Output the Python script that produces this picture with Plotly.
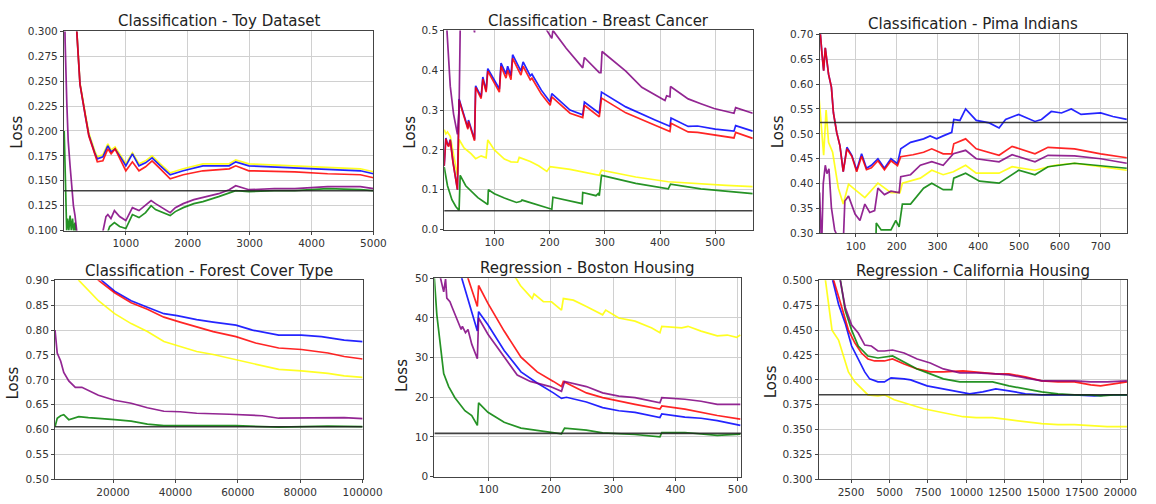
import plotly.graph_objects as go

# ---------------- Classification - Toy Dataset ----------------
toy_top_x = [150, 207, 260, 350, 403, 498, 540, 630, 710, 763, 827, 922, 1001, 1107, 1213, 1319, 1425, 1558, 1717, 1928, 2246, 2670, 2776, 2988, 3730, 4260, 4789, 5000]
toy_red_y = [0.36, 0.300, 0.247, 0.214, 0.195, 0.177, 0.169, 0.170, 0.182, 0.177, 0.182, 0.170, 0.160, 0.169, 0.160, 0.164, 0.170, 0.162, 0.152, 0.156, 0.160, 0.162, 0.165, 0.160, 0.159, 0.157, 0.156, 0.153]
toy_blue_y = [0.36, 0.300, 0.247, 0.214, 0.196, 0.178, 0.172, 0.174, 0.185, 0.179, 0.182, 0.173, 0.165, 0.177, 0.165, 0.168, 0.173, 0.165, 0.156, 0.160, 0.165, 0.165, 0.169, 0.165, 0.163, 0.161, 0.160, 0.157]
toy_yellow_y = [0.36, 0.300, 0.248, 0.216, 0.198, 0.180, 0.174, 0.176, 0.187, 0.181, 0.184, 0.175, 0.167, 0.178, 0.167, 0.170, 0.175, 0.167, 0.158, 0.162, 0.167, 0.167, 0.171, 0.167, 0.165, 0.163, 0.162, 0.159]
toy_purple_x = [8, 20, 48, 70, 100, 120, 154, 180, 207, 260, 400, 600, 646, 680, 710, 760, 816, 900, 1001, 1107, 1213, 1320, 1409, 1480, 1558, 1717, 1800, 1928, 2100, 2246, 2500, 2670, 2776, 2988, 3400, 3730, 4260, 4789, 5000]
toy_purple_y = [0.34, 0.29, 0.227, 0.19, 0.165, 0.15, 0.125, 0.115, 0.100, 0.085, 0.08, 0.09, 0.103, 0.114, 0.116, 0.112, 0.120, 0.114, 0.110, 0.123, 0.120, 0.125, 0.130, 0.127, 0.124, 0.118, 0.123, 0.127, 0.131, 0.133, 0.137, 0.141, 0.145, 0.141, 0.142, 0.142, 0.144, 0.144, 0.142]
toy_green_x = [5, 15, 30, 45, 60, 80, 100, 120, 140, 160, 180, 210, 260, 400, 600, 700, 740, 816, 900, 1001, 1107, 1213, 1320, 1409, 1480, 1558, 1717, 1800, 1928, 2100, 2246, 2500, 2670, 2776, 2988, 3400, 3730, 4260, 4789, 5000]
toy_green_y = [0.20, 0.165, 0.12, 0.10, 0.112, 0.10, 0.115, 0.10, 0.112, 0.098, 0.108, 0.09, 0.08, 0.075, 0.085, 0.097, 0.104, 0.108, 0.104, 0.102, 0.116, 0.113, 0.118, 0.125, 0.121, 0.119, 0.115, 0.119, 0.123, 0.127, 0.129, 0.134, 0.138, 0.140, 0.139, 0.140, 0.140, 0.142, 0.141, 0.140]
toy_base = 0.140

# ---------------- Classification - Breast Cancer ----------------
bc_x = [9, 10, 12, 15, 17, 20, 25, 33, 36, 42, 47, 52, 53, 60, 64, 66, 76, 79, 85, 88, 100, 109, 112, 121, 124, 130, 133, 148, 152, 165, 168, 185, 201, 204, 237, 260, 263, 290, 294, 338, 391, 418, 420, 451, 468, 500, 534, 537, 568]
bc_blue_y = [0.16, 0.18, 0.230, 0.215, 0.21, 0.226, 0.17, 0.10, 0.328, 0.30, 0.275, 0.255, 0.275, 0.245, 0.226, 0.361, 0.333, 0.383, 0.349, 0.404, 0.375, 0.353, 0.418, 0.390, 0.410, 0.386, 0.439, 0.398, 0.421, 0.386, 0.39, 0.35, 0.320, 0.341, 0.300, 0.288, 0.320, 0.292, 0.345, 0.308, 0.275, 0.259, 0.28, 0.259, 0.26, 0.252, 0.247, 0.261, 0.247]
bc_red_y = [0.16, 0.18, 0.228, 0.213, 0.208, 0.224, 0.168, 0.10, 0.325, 0.297, 0.272, 0.252, 0.272, 0.242, 0.223, 0.357, 0.329, 0.378, 0.345, 0.398, 0.368, 0.345, 0.410, 0.380, 0.400, 0.376, 0.430, 0.388, 0.410, 0.376, 0.38, 0.34, 0.312, 0.333, 0.292, 0.281, 0.312, 0.283, 0.330, 0.293, 0.262, 0.246, 0.267, 0.245, 0.244, 0.237, 0.230, 0.244, 0.229]
bc_yellow_x = [9, 12, 15, 20, 27, 33, 36, 45, 58, 66, 76, 85, 88, 100, 118, 130, 142, 145, 165, 180, 195, 201, 237, 260, 290, 294, 356, 415, 474, 520, 568]
bc_yellow_y = [0.251, 0.24, 0.245, 0.234, 0.18, 0.136, 0.226, 0.205, 0.19, 0.178, 0.185, 0.18, 0.225, 0.2, 0.177, 0.17, 0.169, 0.181, 0.171, 0.16, 0.146, 0.158, 0.151, 0.144, 0.136, 0.149, 0.132, 0.12, 0.114, 0.111, 0.108]
bc_purple_x = [9, 14, 20, 26, 33, 36, 40, 62, 64, 66, 100, 150, 195, 204, 206, 230, 260, 263, 290, 293, 295, 338, 367, 391, 409, 412, 418, 419, 451, 474, 498, 534, 537, 568]
bc_purple_y = [0.9, 0.5, 0.36, 0.29, 0.239, 0.3, 0.7, 0.52, 0.495, 0.6, 0.7, 0.6, 0.5, 0.48, 0.5, 0.455, 0.406, 0.432, 0.394, 0.394, 0.447, 0.398, 0.357, 0.337, 0.324, 0.336, 0.333, 0.359, 0.328, 0.316, 0.304, 0.292, 0.306, 0.292]
bc_green_x = [9, 15, 23, 30, 36, 38, 48, 58, 70, 88, 89, 100, 118, 140, 148, 150, 175, 204, 206, 230, 259, 260, 284, 288, 290, 294, 356, 415, 419, 474, 520, 568]
bc_green_y = [0.157, 0.11, 0.075, 0.058, 0.048, 0.136, 0.11, 0.096, 0.08, 0.063, 0.1, 0.09, 0.079, 0.068, 0.071, 0.074, 0.064, 0.051, 0.081, 0.073, 0.065, 0.093, 0.085, 0.09, 0.085, 0.136, 0.116, 0.102, 0.114, 0.102, 0.096, 0.090]
bc_base = 0.047

# ---------------- Classification - Pima Indians ----------------
pima_blue_x = [10, 13, 17, 21, 25, 29, 33, 40, 45, 53, 61, 69, 78, 90, 102, 114, 126, 138, 154, 170, 186, 202, 210, 234, 266, 282, 298, 314, 335, 340, 355, 369, 395, 427, 451, 467, 499, 539, 555, 579, 604, 628, 652, 700, 730, 764]
pima_blue_y = [0.72, 0.70, 0.66, 0.627, 0.673, 0.646, 0.620, 0.594, 0.542, 0.503, 0.476, 0.424, 0.473, 0.457, 0.427, 0.460, 0.431, 0.437, 0.450, 0.431, 0.450, 0.440, 0.470, 0.483, 0.490, 0.496, 0.490, 0.496, 0.503, 0.529, 0.527, 0.550, 0.527, 0.522, 0.512, 0.529, 0.539, 0.525, 0.529, 0.545, 0.542, 0.550, 0.539, 0.542, 0.535, 0.529]
pima_red_x = [10, 13, 17, 21, 25, 29, 33, 40, 45, 53, 61, 69, 78, 90, 102, 114, 126, 138, 154, 170, 186, 202, 210, 240, 266, 286, 314, 335, 340, 369, 395, 451, 483, 539, 571, 636, 700, 764]
pima_red_y = [0.72, 0.70, 0.66, 0.627, 0.673, 0.646, 0.620, 0.594, 0.542, 0.503, 0.476, 0.424, 0.470, 0.455, 0.424, 0.455, 0.428, 0.432, 0.446, 0.428, 0.446, 0.436, 0.454, 0.458, 0.463, 0.470, 0.460, 0.460, 0.480, 0.490, 0.470, 0.457, 0.475, 0.460, 0.473, 0.470, 0.460, 0.452]
pima_purple_x = [10, 11, 16, 20, 25, 29, 34, 40, 48, 57, 69, 73, 82, 98, 110, 122, 134, 146, 154, 170, 186, 206, 210, 234, 258, 286, 314, 339, 369, 395, 451, 483, 539, 571, 636, 700, 764]
pima_purple_y = [0.38, 0.382, 0.27, 0.40, 0.437, 0.42, 0.43, 0.352, 0.307, 0.29, 0.28, 0.365, 0.375, 0.339, 0.326, 0.359, 0.342, 0.346, 0.391, 0.378, 0.385, 0.382, 0.414, 0.418, 0.437, 0.444, 0.437, 0.460, 0.467, 0.450, 0.444, 0.458, 0.444, 0.457, 0.456, 0.450, 0.441]
pima_yellow_x = [10, 11, 16, 21, 27, 33, 43, 57, 69, 82, 98, 122, 154, 186, 208, 214, 258, 286, 314, 339, 369, 395, 451, 483, 539, 588, 636, 700, 764]
pima_yellow_y = [0.57, 0.561, 0.50, 0.457, 0.548, 0.483, 0.463, 0.391, 0.359, 0.399, 0.388, 0.372, 0.401, 0.382, 0.382, 0.401, 0.411, 0.427, 0.418, 0.424, 0.437, 0.421, 0.421, 0.434, 0.427, 0.437, 0.441, 0.434, 0.427]
pima_green_x = [10, 40, 100, 149, 150, 162, 186, 198, 206, 214, 234, 266, 286, 314, 335, 340, 369, 403, 451, 499, 539, 571, 636, 700, 764]
pima_green_y = [0.25, 0.22, 0.24, 0.28, 0.321, 0.307, 0.307, 0.326, 0.313, 0.359, 0.359, 0.391, 0.401, 0.388, 0.388, 0.411, 0.421, 0.405, 0.401, 0.427, 0.418, 0.434, 0.441, 0.436, 0.431]
pima_base = 0.523

# ---------------- Classification - Forest Cover Type ----------------
fc_blue_x = [10000, 16300, 20500, 25800, 31000, 36300, 40500, 46800, 52100, 59400, 64700, 69900, 73100, 80400, 86800, 94100, 100000]
fc_blue_y = [0.98, 0.900, 0.878, 0.859, 0.846, 0.833, 0.829, 0.821, 0.816, 0.810, 0.800, 0.793, 0.790, 0.790, 0.787, 0.780, 0.777]
fc_red_x = [10000, 15300, 20500, 25800, 31000, 36300, 41500, 46800, 52100, 59400, 65700, 73100, 80400, 88900, 94100, 100000]
fc_red_y = [0.97, 0.900, 0.875, 0.855, 0.842, 0.826, 0.816, 0.806, 0.797, 0.787, 0.774, 0.764, 0.761, 0.754, 0.747, 0.742]
fc_yellow_x = [5000, 9000, 15300, 20500, 25800, 31000, 36300, 41500, 46800, 52100, 59400, 65700, 73100, 80400, 88900, 94100, 100000]
fc_yellow_y = [0.96, 0.900, 0.859, 0.833, 0.813, 0.797, 0.777, 0.767, 0.757, 0.751, 0.741, 0.731, 0.721, 0.718, 0.713, 0.708, 0.705]
fc_purple_x = [1400, 2100, 3200, 4200, 5800, 7900, 10000, 12100, 15300, 20500, 25800, 31000, 36300, 41500, 46800, 57300, 67800, 73100, 83600, 94100, 100000]
fc_purple_y = [0.800, 0.754, 0.738, 0.715, 0.698, 0.685, 0.685, 0.679, 0.669, 0.659, 0.653, 0.644, 0.637, 0.636, 0.633, 0.631, 0.628, 0.623, 0.624, 0.624, 0.622]
fc_green_x = [1400, 2100, 3200, 4200, 5800, 9000, 12100, 15300, 20500, 25800, 31000, 36300, 46800, 59400, 73100, 88900, 100000]
fc_green_y = [0.606, 0.623, 0.628, 0.630, 0.620, 0.626, 0.624, 0.622, 0.620, 0.617, 0.611, 0.608, 0.608, 0.608, 0.605, 0.607, 0.606]
fc_base = 0.606

# ---------------- Regression - Boston Housing ----------------
bh_yellow_x = [130, 144, 151, 170, 173, 188, 201, 217, 220, 236, 257, 283, 288, 309, 335, 362, 375, 378, 410, 420, 441, 467, 483, 498, 504]
bh_yellow_y = [52, 50, 48.2, 44.9, 46.1, 44.1, 44.1, 42.0, 44.9, 44.5, 42.9, 40.8, 42.0, 40.0, 39.2, 37.5, 36.3, 37.9, 37.5, 37.9, 36.7, 35.5, 35.7, 35.1, 35.7]
bh_red_x = [60, 67, 82, 84, 99, 125, 152, 178, 204, 217, 220, 257, 283, 309, 335, 375, 378, 415, 441, 467, 504]
bh_red_y = [56, 50, 42.9, 48.2, 43.7, 36.7, 30.1, 26.4, 24.0, 22.7, 24.0, 21.1, 19.9, 19.0, 18.2, 17.0, 17.8, 17.0, 16.2, 15.4, 14.5]
bh_blue_x = [50, 57, 82, 84, 99, 125, 152, 178, 204, 217, 225, 257, 283, 309, 335, 375, 378, 415, 441, 467, 504]
bh_blue_y = [55, 50, 36.7, 41.6, 38.3, 31.8, 26.4, 23.6, 21.1, 19.7, 20.0, 18.8, 17.4, 16.6, 16.2, 14.9, 15.8, 15.0, 14.7, 14.1, 12.9]
bh_purple_x = [20, 23, 28, 31, 33, 38, 41, 49, 56, 58, 63, 67, 73, 82, 84, 99, 125, 146, 167, 178, 199, 217, 222, 257, 283, 309, 335, 375, 378, 415, 441, 467, 504]
bh_purple_y = [55, 50, 46.6, 49.8, 45, 44.1, 42.9, 40.0, 37.1, 37.9, 36.3, 37.1, 33.4, 29.7, 40.0, 35.9, 30.1, 25.6, 24.0, 23.6, 22.7, 21.5, 24.0, 22.7, 21.1, 20.3, 19.9, 18.6, 19.9, 19.5, 19.0, 18.2, 18.2]
bh_green_x = [10, 13, 17, 23, 28, 36, 46, 62, 73, 82, 84, 99, 125, 152, 178, 204, 217, 222, 257, 283, 335, 375, 378, 415, 441, 467, 504]
bh_green_y = [55, 50, 40.8, 32.6, 26.0, 22.7, 19.9, 16.6, 15.4, 12.9, 18.6, 16.2, 13.7, 12.2, 11.7, 11.2, 10.8, 12.2, 11.7, 11.0, 10.6, 10.0, 11.1, 11.1, 10.8, 10.4, 10.7]
bh_base = 10.9

# ---------------- Regression - California Housing ----------------
ca_yellow_x = [500, 840, 1265, 1690, 2010, 2330, 2755, 3180, 3600, 4250, 4670, 5310, 6375, 7225, 8500, 9780, 10630, 11700, 12760, 13830, 14890, 15950, 17020, 18080, 19150, 20430]
ca_yellow_y = [0.56, 0.500, 0.450, 0.440, 0.424, 0.408, 0.398, 0.391, 0.385, 0.384, 0.385, 0.380, 0.375, 0.371, 0.367, 0.363, 0.362, 0.362, 0.360, 0.358, 0.356, 0.355, 0.355, 0.354, 0.353, 0.353]
ca_blue_x = [800, 1310, 1690, 2120, 2540, 2970, 3390, 3710, 4250, 4670, 5100, 5950, 6375, 7440, 8500, 9360, 10210, 11060, 11910, 12760, 13830, 14890, 17020, 18300, 19150, 20430]
ca_blue_y = [0.56, 0.500, 0.476, 0.457, 0.434, 0.421, 0.408, 0.401, 0.398, 0.398, 0.402, 0.401, 0.400, 0.394, 0.391, 0.388, 0.386, 0.388, 0.391, 0.389, 0.386, 0.385, 0.385, 0.384, 0.385, 0.385]
ca_red_x = [800, 1370, 1900, 2330, 2755, 3180, 3600, 4030, 4670, 5200, 5950, 6800, 7650, 8500, 9780, 10630, 11910, 12760, 13830, 14890, 15950, 17020, 18080, 18720, 19150, 20430]
ca_red_y = [0.56, 0.500, 0.473, 0.450, 0.437, 0.427, 0.421, 0.419, 0.419, 0.421, 0.416, 0.411, 0.408, 0.408, 0.409, 0.408, 0.406, 0.406, 0.403, 0.399, 0.398, 0.398, 0.395, 0.394, 0.395, 0.398]
ca_green_x = [1200, 1800, 2120, 2540, 2970, 3600, 4250, 5200, 5950, 6800, 7650, 8500, 9570, 10630, 11700, 12760, 13830, 14890, 15950, 17020, 18080, 18720, 19570, 20430]
ca_green_y = [0.56, 0.500, 0.470, 0.450, 0.434, 0.424, 0.422, 0.424, 0.418, 0.411, 0.406, 0.401, 0.398, 0.398, 0.398, 0.394, 0.391, 0.388, 0.386, 0.385, 0.385, 0.384, 0.385, 0.385]
ca_purple_x = [1200, 1800, 2120, 2540, 2970, 3390, 3820, 4250, 4670, 5200, 5950, 6800, 7650, 8500, 9570, 10630, 11910, 12760, 13830, 14890, 15950, 17020, 18080, 19150, 20430]
ca_purple_y = [0.56, 0.500, 0.473, 0.455, 0.447, 0.435, 0.434, 0.429, 0.429, 0.430, 0.427, 0.421, 0.417, 0.411, 0.407, 0.407, 0.406, 0.405, 0.402, 0.399, 0.399, 0.399, 0.398, 0.398, 0.399]
ca_base = 0.385

# ---------------- titles / ticks ----------------
titles = ["Classification - Toy Dataset", "Classification - Breast Cancer", "Classification - Pima Indians",
          "Classification - Forest Cover Type", "Regression - Boston Housing", "Regression - California Housing"]
x_ranges = [[0, 5000], [9, 568], [11, 765], [1400, 100000], [13, 505], [392, 20447]]
y_ranges = [[0.1, 0.3], [0.0, 0.5], [0.3, 0.7], [0.5, 0.9], [0, 50], [0.3, 0.5]]
x_ticks = [[1000, 2000, 3000, 4000, 5000], [100, 200, 300, 400, 500], [100, 200, 300, 400, 500, 600, 700],
           [20000, 40000, 60000, 80000, 100000], [100, 200, 300, 400, 500],
           [2500, 5000, 7500, 10000, 12500, 15000, 17500, 20000]]
y_ticks = [[0.100, 0.125, 0.150, 0.175, 0.200, 0.225, 0.250, 0.275, 0.300],
           [0.0, 0.1, 0.2, 0.3, 0.4, 0.5],
           [0.30, 0.35, 0.40, 0.45, 0.50, 0.55, 0.60, 0.65, 0.70],
           [0.50, 0.55, 0.60, 0.65, 0.70, 0.75, 0.80, 0.85, 0.90],
           [0, 10, 20, 30, 40, 50],
           [0.300, 0.325, 0.350, 0.375, 0.400, 0.425, 0.450, 0.475, 0.500]]
y_formats = [".3f", ".1f", ".2f", ".2f", "d", ".3f"]

W, H = 1156, 504
# plot boxes in pixels: left, right, top, bottom
boxes = [(65, 380, 26, 230), (452, 766, 25, 229), (834, 1147, 29, 233),
         (56, 369, 281, 485), (442, 754, 279, 482), (833, 1147, 281, 485)]
title_y = [15, 15, 18, 271, 268, 271]
loss_pos = [(17, 129), (417, 129), (792, 129), (13, 386), (409, 378), (784, 385)]

COL = {"yellow": "#ffff00", "blue": "#0000ff", "red": "#ff0000", "green": "#008000", "purple": "#800080"}

series = [
    [("yellow", toy_top_x, toy_yellow_y), ("blue", toy_top_x, toy_blue_y), ("red", toy_top_x, toy_red_y),
     ("green", toy_green_x, toy_green_y), ("purple", toy_purple_x, toy_purple_y)],
    [("yellow", bc_yellow_x, bc_yellow_y), ("blue", bc_x, bc_blue_y), ("red", bc_x, bc_red_y),
     ("green", bc_green_x, bc_green_y), ("purple", bc_purple_x, bc_purple_y)],
    [("yellow", pima_yellow_x, pima_yellow_y), ("blue", pima_blue_x, pima_blue_y), ("red", pima_red_x, pima_red_y),
     ("green", pima_green_x, pima_green_y), ("purple", pima_purple_x, pima_purple_y)],
    [("yellow", fc_yellow_x, fc_yellow_y), ("blue", fc_blue_x, fc_blue_y), ("red", fc_red_x, fc_red_y),
     ("green", fc_green_x, fc_green_y), ("purple", fc_purple_x, fc_purple_y)],
    [("yellow", bh_yellow_x, bh_yellow_y), ("blue", bh_blue_x, bh_blue_y), ("red", bh_red_x, bh_red_y),
     ("green", bh_green_x, bh_green_y), ("purple", bh_purple_x, bh_purple_y)],
    [("yellow", ca_yellow_x, ca_yellow_y), ("blue", ca_blue_x, ca_blue_y), ("red", ca_red_x, ca_red_y),
     ("green", ca_green_x, ca_green_y), ("purple", ca_purple_x, ca_purple_y)],
]
baselines = [toy_base, bc_base, pima_base, fc_base, bh_base, ca_base]

fig = go.Figure()
annotations = []
layout = {}
FONT = "DejaVu Sans"
for i in range(6):
    n = "" if i == 0 else str(i + 1)
    xa, ya = "x" + n, "y" + n
    for cname, xs, ys in series[i]:
        fig.add_trace(go.Scatter(x=xs, y=ys, mode="lines", xaxis=xa, yaxis=ya, showlegend=False,
                                 line=dict(color=COL[cname], width=1.7), opacity=0.85))
    fig.add_trace(go.Scatter(x=x_ranges[i], y=[baselines[i], baselines[i]], mode="lines", xaxis=xa, yaxis=ya,
                             showlegend=False, line=dict(color="#222222", width=1.6), opacity=0.85))
    l, r, t, b = boxes[i]
    common = dict(showgrid=True, gridcolor="#d0d0d0", gridwidth=1, zeroline=False,
                  showline=True, mirror=True, linecolor="#444", linewidth=1,
                  ticks="outside", ticklen=3, tickcolor="#444",
                  tickfont=dict(family=FONT, size=10.5, color="#333"))
    layout["xaxis" + n] = dict(domain=[l / W, r / W], anchor=ya, range=x_ranges[i], tickvals=x_ticks[i],
                               tickformat="d", **common)
    layout["yaxis" + n] = dict(domain=[1 - b / H, 1 - t / H], anchor=xa, range=y_ranges[i], tickvals=y_ticks[i],
                               tickformat=y_formats[i], **common)
    annotations.append(dict(text=titles[i], x=(l + r) / 2 / W, y=1 - title_y[i] / H, xref="paper", yref="paper",
                            xanchor="center", yanchor="middle", showarrow=False,
                            font=dict(family=FONT, size=15, color="#222")))
    annotations.append(dict(text="Loss", x=loss_pos[i][0] / W, y=1 - loss_pos[i][1] / H, xref="paper", yref="paper",
                            xanchor="center", yanchor="middle", showarrow=False, textangle=-90,
                            font=dict(family=FONT, size=15, color="#222")))

fig.update_layout(**layout)
fig.update_layout(width=W, height=H, margin=dict(l=0, r=0, t=0, b=0), paper_bgcolor="white",
                  plot_bgcolor="white", annotations=annotations, showlegend=False, hovermode=False)
fig.write_html("out.html", config={"displayModeBar": False},
               post_script="document.body.style.margin='0px';")
